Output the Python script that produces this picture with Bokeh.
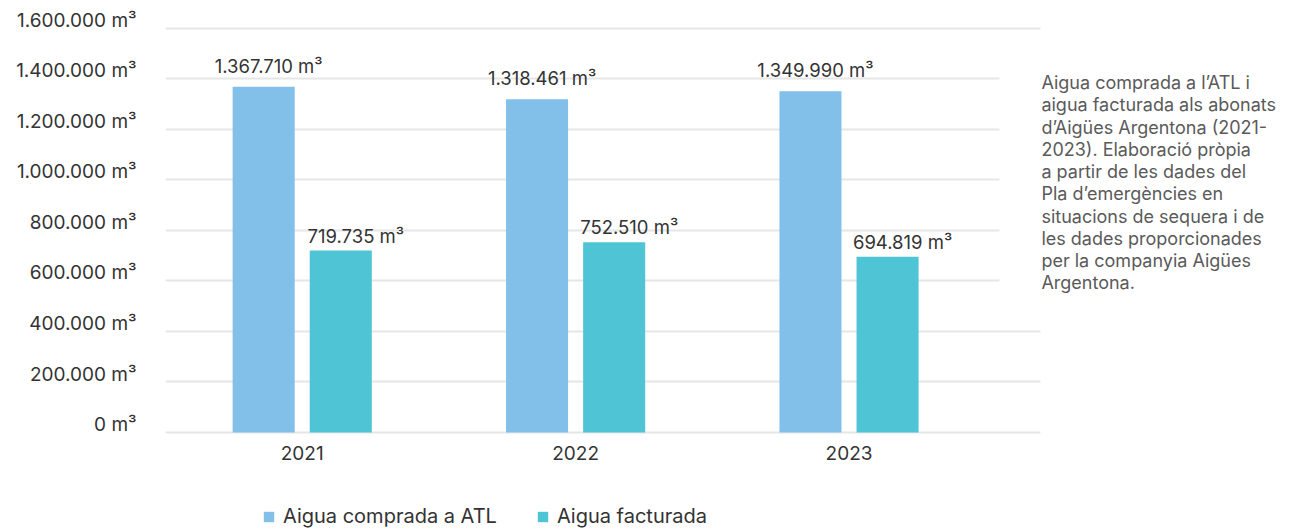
from bokeh.plotting import figure
from bokeh.models import (Range1d, FixedTicker, Legend, LegendItem, BoxAnnotation, ColumnDataSource)
from bokeh.core.properties import value
from bokeh.embed import file_html
from bokeh.resources import INLINE
import numpy as np

years = ["2021", "2022", "2023"]
comprada = [1367710, 1318461, 1349990]
facturada = [719735, 752510, 694819]
series_names = ["Aigua comprada a ATL", "Aigua facturada"]
y_ticks = [0, 200000, 400000, 600000, 800000, 1000000, 1200000, 1400000, 1600000]
y_tick_labels = ["0 m³", "200.000 m³", "400.000 m³", "600.000 m³", "800.000 m³",
                 "1.000.000 m³", "1.200.000 m³", "1.400.000 m³", "1.600.000 m³"]
note = ("Aigua comprada a l’ATL i\naigua facturada als abonats\nd’Aigües Argentona (2021-\n"
        "2023). Elaboració pròpia\na partir de les dades del\nPla d’emergències en\n"
        "situacions de sequera i de\nles dades proporcionades\nper la companyia Aigües\nArgentona.")

BLUE = "#82C0EA"
TEAL = "#4FC4D4"
FONT = "Inter"
TXT = "#333333"

def fmt(v):
    return f"{v:,}".replace(",", ".") + " m³"

xc = np.arange(len(years))
off = 0.141
src_a = ColumnDataSource(dict(x=xc - off, top=comprada, lbl=[fmt(v) for v in comprada]))
src_b = ColumnDataSource(dict(x=xc + off, top=facturada, lbl=[fmt(v) for v in facturada]))

p = figure(width=1298, height=532, output_backend="svg", toolbar_location=None,
           x_range=Range1d(-0.5, 3.644), y_range=Range1d(-396000, 1650000),
           min_border_left=165, min_border_right=0, min_border_top=15, min_border_bottom=0)
p.outline_line_color = None

ra = p.vbar(x="x", top="top", width=0.227, source=src_a, color=BLUE, line_color=None)
rb = p.vbar(x="x", top="top", width=0.227, source=src_b, color=TEAL, line_color=None)

p.text(x="x", y="top", text="lbl", source=src_a, text_align="center", text_baseline="bottom",
       x_offset=5, y_offset=-10, text_font=value(FONT), text_font_size="18.5px", text_color=TXT)
p.text(x="x", y="top", text="lbl", source=src_b, text_align="center", text_baseline="bottom",
       x_offset=15, y_offset=-4, text_font=value(FONT), text_font_size="18.5px", text_color=TXT)

# category labels under each group
p.text(x=xc, y=[0] * len(years), text=years, text_align="center", text_baseline="top",
       y_offset=14, text_font=value(FONT), text_font_size="19px", text_color=TXT)

# y axis: labels sit a little above their gridlines
label_lift = 31000
p.ygrid.ticker = FixedTicker(ticks=y_ticks)
p.yaxis.ticker = FixedTicker(ticks=[t + label_lift for t in y_ticks])
p.yaxis.major_label_overrides = {t + label_lift: l for t, l in zip(y_ticks, y_tick_labels)}
p.yaxis.axis_line_color = None
p.yaxis.major_tick_line_color = None
p.yaxis.minor_tick_line_color = None
p.yaxis.major_label_standoff = 23
p.yaxis.major_label_text_font = FONT
p.yaxis.major_label_text_font_size = "19px"
p.yaxis.major_label_text_color = TXT

p.xaxis.visible = False
p.xgrid.grid_line_color = None
p.ygrid.grid_line_color = "#e6e6e6"
p.ygrid.grid_line_width = 2

# white areas: right of the chart and behind the note
p.add_layout(BoxAnnotation(left=2.7, fill_color="white", fill_alpha=1.0, line_alpha=0))
p.add_layout(BoxAnnotation(left=2.55, right=2.7, bottom=500000, top=1500000,
                           fill_color="white", fill_alpha=1.0, line_alpha=0))

# note
p.text(x=[2.7], y=[1426000], text=[note], text_align="left", text_baseline="top", x_offset=1,
       text_font=value(FONT), text_font_size="18px", text_color="#5a5a5a",
       text_line_height=1.06, level="overlay")

legend = Legend(items=[LegendItem(label=series_names[0], renderers=[ra]),
                       LegendItem(label=series_names[1], renderers=[rb])],
                orientation="horizontal", location=(97, 4), padding=0, margin=0,
                spacing=39, label_standoff=8, glyph_width=13, glyph_height=13,
                label_text_font=FONT, label_text_font_size="20px", label_text_color=TXT,
                border_line_color=None, background_fill_alpha=0)
p.add_layout(legend, "center")

open("out.html", "w").write(file_html(p, INLINE))
